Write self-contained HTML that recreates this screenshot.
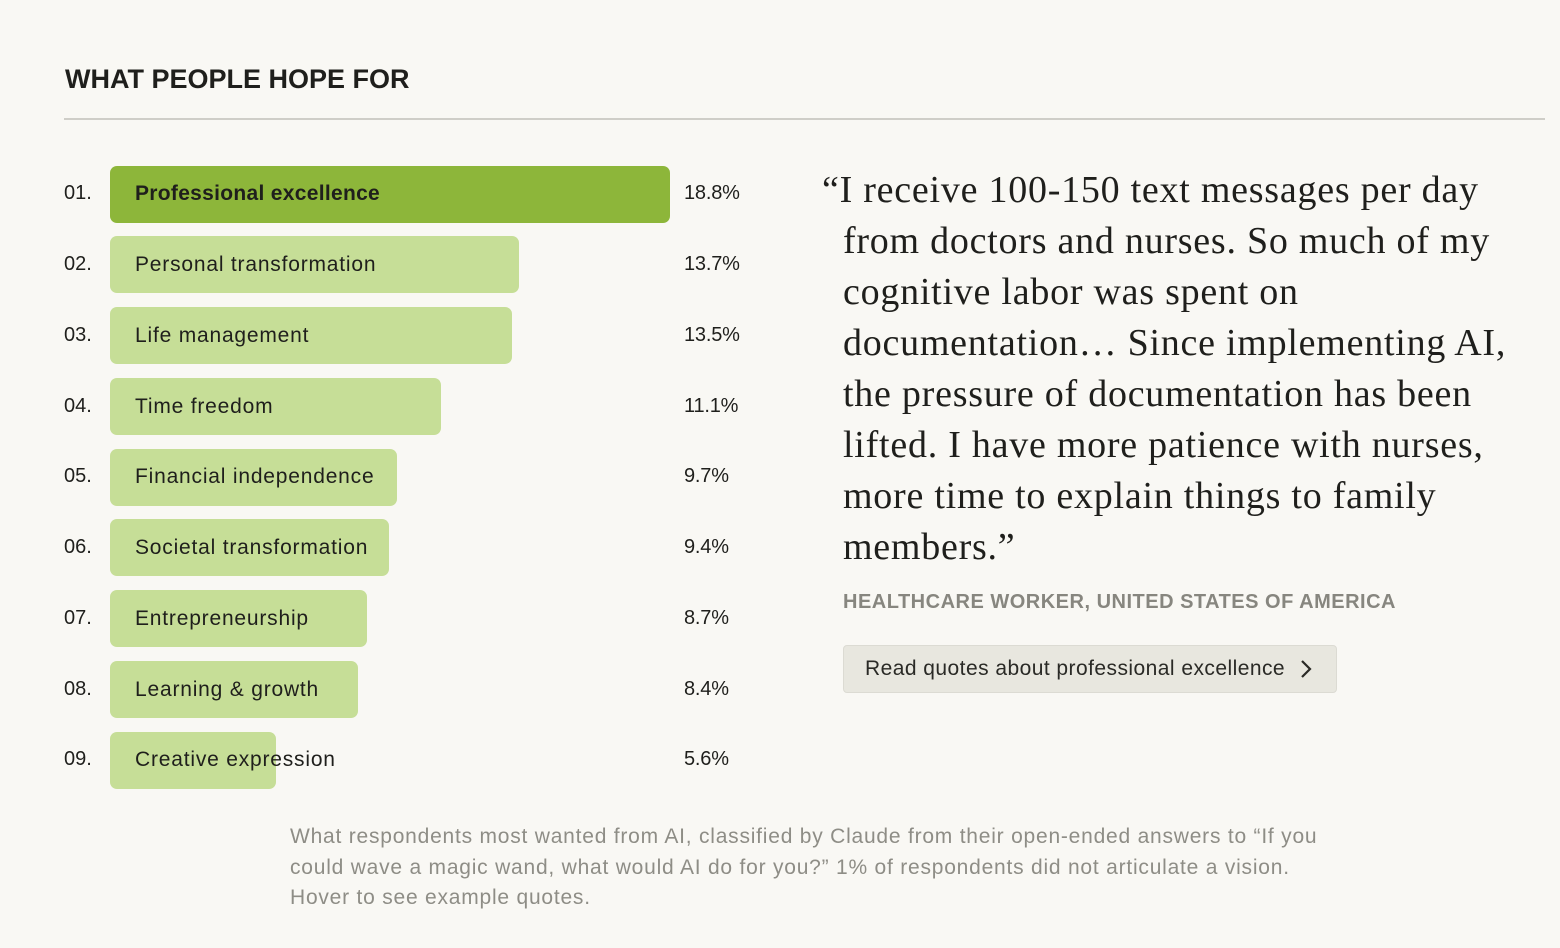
<!DOCTYPE html>
<html><head><meta charset="utf-8"><style>
body{margin:0;width:1560px;height:948px;background:#f9f8f4;position:relative;overflow:hidden;font-family:"Liberation Sans",sans-serif;color:#1f1f1c}
.a{position:absolute;white-space:nowrap}
.t{left:65px;top:64px;font-size:27px;font-weight:bold;letter-spacing:0px}
.rule{left:64px;top:118px;width:1481px;height:2px;background:#cfcec8}
.n{left:64px;font-size:20px;line-height:20px}
.bar{left:110px;height:57px;border-radius:7px;background:#c6de97}
.lb{left:135px;font-size:21px;line-height:21px;letter-spacing:0.8px}
.p{left:684px;font-size:20px;line-height:20px;letter-spacing:-0.2px}
.q{left:843px;font-family:"Liberation Serif",serif;font-size:38px;line-height:38px;letter-spacing:0.75px;color:#1f1f1c}
</style></head><body>
<div class="a t">WHAT PEOPLE HOPE FOR</div>
<div class="a rule"></div>

<div class="a bar" style="top:166px;width:560px;background:#8db63a"></div>
<div class="a bar" style="top:236px;width:409px"></div>
<div class="a bar" style="top:307px;width:402px"></div>
<div class="a bar" style="top:378px;width:331px"></div>
<div class="a bar" style="top:449px;width:287px"></div>
<div class="a bar" style="top:519px;width:279px"></div>
<div class="a bar" style="top:590px;width:257px"></div>
<div class="a bar" style="top:661px;width:248px"></div>
<div class="a bar" style="top:732px;width:166px"></div>

<div class="a n" style="top:183px">01.</div>
<div class="a n" style="top:254px">02.</div>
<div class="a n" style="top:325px">03.</div>
<div class="a n" style="top:396px">04.</div>
<div class="a n" style="top:466px">05.</div>
<div class="a n" style="top:537px">06.</div>
<div class="a n" style="top:608px">07.</div>
<div class="a n" style="top:679px">08.</div>
<div class="a n" style="top:749px">09.</div>

<div class="a lb" style="top:183px;font-weight:bold;letter-spacing:0.3px">Professional excellence</div>
<div class="a lb" style="top:254px">Personal transformation</div>
<div class="a lb" style="top:325px">Life management</div>
<div class="a lb" style="top:396px">Time freedom</div>
<div class="a lb" style="top:466px">Financial independence</div>
<div class="a lb" style="top:537px">Societal transformation</div>
<div class="a lb" style="top:608px">Entrepreneurship</div>
<div class="a lb" style="top:679px">Learning &amp; growth</div>
<div class="a lb" style="top:749px">Creative expression</div>

<div class="a p" style="top:183px">18.8%</div>
<div class="a p" style="top:254px">13.7%</div>
<div class="a p" style="top:325px">13.5%</div>
<div class="a p" style="top:396px">11.1%</div>
<div class="a p" style="top:466px">9.7%</div>
<div class="a p" style="top:537px">9.4%</div>
<div class="a p" style="top:608px">8.7%</div>
<div class="a p" style="top:679px">8.4%</div>
<div class="a p" style="top:749px">5.6%</div>

<div class="a q" style="top:171px;left:822px">“I receive 100-150 text messages per day</div>
<div class="a q" style="top:222px">from doctors and nurses. So much of my</div>
<div class="a q" style="top:273px">cognitive labor was spent on</div>
<div class="a q" style="top:324px">documentation… Since implementing AI,</div>
<div class="a q" style="top:375px">the pressure of documentation has been</div>
<div class="a q" style="top:426px">lifted. I have more patience with nurses,</div>
<div class="a q" style="top:477px">more time to explain things to family</div>
<div class="a q" style="top:528px">members.”</div>

<div class="a" style="left:843px;top:591px;font-size:20px;font-weight:bold;color:#87867f;letter-spacing:0.5px">HEALTHCARE WORKER, UNITED STATES OF AMERICA</div>
<div class="a" style="left:843px;top:645px;width:492px;height:46px;border:1px solid #dcdbd3;background:#e8e7df;border-radius:4px"></div>
<div class="a" style="left:865px;top:657px;font-size:21px;color:#2a2a26;letter-spacing:0.45px">Read quotes about professional excellence</div>
<svg class="a" style="left:1299px;top:659px" width="14" height="20"><path d="M3 2 L11 10 L3 18" fill="none" stroke="#2a2a26" stroke-width="2.2"/></svg>

<div class="a" style="left:290px;top:822px;font-size:21px;line-height:30.5px;color:#8e8d86;letter-spacing:0.78px">What respondents most wanted from AI, classified by Claude from their open-ended answers to “If you<br>could wave a magic wand, what would AI do for you?” 1% of respondents did not articulate a vision.<br>Hover to see example quotes.</div>
</body></html>
